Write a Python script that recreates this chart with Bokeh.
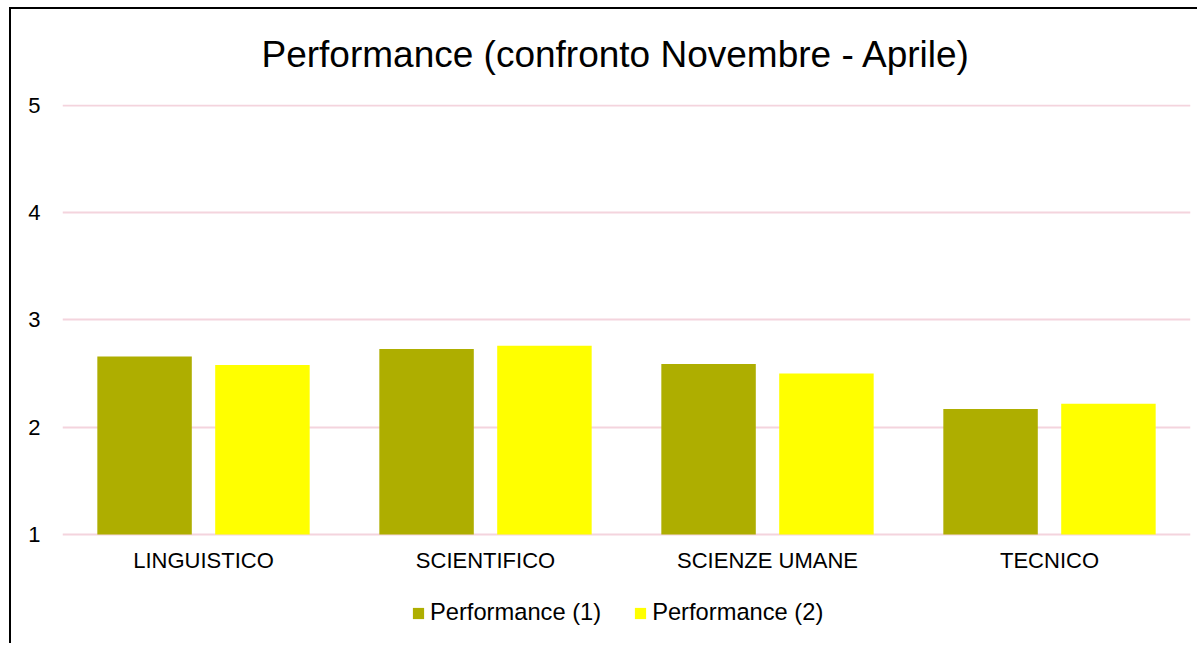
from bokeh.plotting import figure
from bokeh.models import ColumnDataSource, FactorRange, Range1d, Legend, LegendItem, FixedTicker, Title
from bokeh.core.properties import value
from bokeh.transform import dodge
from bokeh.embed import file_html
from bokeh.resources import INLINE

categories = ["LINGUISTICO", "SCIENTIFICO", "SCIENZE UMANE", "TECNICO"]
performance_1 = [2.66, 2.73, 2.59, 2.17]
performance_2 = [2.58, 2.76, 2.50, 2.22]
series_names = ["Performance (1)", "Performance (2)"]
y_ticks = [1, 2, 3, 4, 5]

FONT = "Liberation Sans"
base = y_ticks[0]

source = ColumnDataSource(dict(cat=categories, p1=performance_1, p2=performance_2,
                               base=[base] * len(categories)))

p = figure(
    x_range=FactorRange(*categories),
    y_range=Range1d(-0.035, 5.0093),
    width=1188, height=636,
    output_backend="svg", toolbar_location=None,
    x_axis_location=None,
    min_border_left=51, min_border_right=9, min_border_top=95, min_border_bottom=0,
    title=None,
)
p.styles = {"margin-left": "9px", "margin-top": "7px",
            "border-left": "2px solid #000000", "border-top": "2px solid #000000"}
p.outline_line_color = None
p.background_fill_color = "white"
p.border_fill_color = "white"

# spacer between the chart title and the plotting area
spacer = Title(text=" ", text_font=FONT, text_font_size="1px", standoff=17)
p.add_layout(spacer, "above")
title = Title(text="Performance (confronto Novembre - Aprile)", align="left", offset=199,
              text_font=FONT, text_font_size="37px", text_font_style="normal",
              text_color="#000000", standoff=20)
p.add_layout(title, "above")

r1 = p.vbar(x=dodge("cat", -0.209, range=p.x_range), top="p1", bottom="base", width=0.335,
            source=source, fill_color="#AEAE00", line_color=None)
r2 = p.vbar(x=dodge("cat", 0.209, range=p.x_range), top="p2", bottom="base", width=0.335,
            source=source, fill_color="#FFFF00", line_color=None)

# category labels, placed under the baseline through the chart's own scales
p.text(x="cat", y="base", text="cat", source=source, y_offset=26,
       text_align="center", text_baseline="middle",
       text_font=value(FONT), text_font_size="22px", text_color="#000000")

p.xgrid.grid_line_color = None
p.ygrid.grid_line_color = "#F4D4DD"
p.ygrid.grid_line_width = 2
p.yaxis.ticker = FixedTicker(ticks=y_ticks)
p.yaxis.axis_line_color = None
p.yaxis.major_tick_line_color = None
p.yaxis.minor_tick_line_color = None
p.yaxis.major_label_text_font = FONT
p.yaxis.major_label_text_font_size = "22px"
p.yaxis.major_label_text_color = "#000000"
p.yaxis.major_label_standoff = 16

legend = Legend(items=[LegendItem(label=series_names[0], renderers=[r1]),
                       LegendItem(label=series_names[1], renderers=[r2])],
                orientation="horizontal", location=(349, 19),
                label_text_font=FONT, label_text_font_size="23.7px", label_text_color="#000000",
                glyph_width=14, glyph_height=14, label_standoff=5, spacing=32,
                border_line_color=None, background_fill_alpha=0, padding=0, margin=0)
p.add_layout(legend, "center")

open("out.html", "w").write(file_html(p, INLINE))
